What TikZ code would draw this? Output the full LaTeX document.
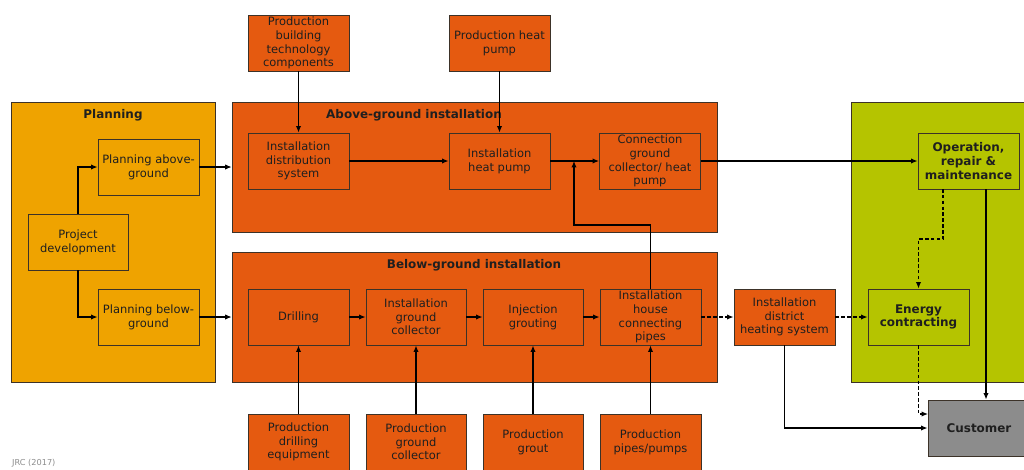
\documentclass[tikz,border=0pt]{standalone}
\usepackage{fontspec}
\setmainfont{DejaVu Sans}
\usetikzlibrary{arrows.meta}
\definecolor{plan}{RGB}{239,163,0}
\definecolor{inst}{RGB}{229,90,16}
\definecolor{oper}{RGB}{181,196,0}
\definecolor{cust}{RGB}{140,140,140}
\definecolor{edge}{RGB}{60,50,40}
\tikzset{
  panel/.style={draw=edge, line width=0.6pt, inner sep=0pt},
  box/.style={draw=edge, line width=0.8pt, minimum width=3.03cm, minimum height=1.68cm,
    inner sep=0pt, align=center, font=\fontsize{9.8}{11.7}\selectfont, text=black!88},
  boldbox/.style={box, font=\bfseries\fontsize{10.2}{11.7}\selectfont},
  title/.style={font=\bfseries\fontsize{10.2}{12}\selectfont, text=black!88},
  conn/.style={line width=0.9pt, -{Latex[length=5.5pt,width=4.5pt]}},
  dconn/.style={conn, dash pattern=on 3pt off 2pt}
}
\begin{document}
\begin{tikzpicture}[x=0.03cm,y=-0.03cm]
\useasboundingbox (0,0) rectangle (1024,469);
\begin{scope}
\clip (0,0) rectangle (1024,469);
% panels
\node[panel, fill=plan, minimum width=6.12cm, minimum height=8.4cm] (planP) at (113,242) {};
\node[panel, fill=inst, minimum width=14.55cm, minimum height=3.9cm] (agP) at (474.5,167) {};
\node[panel, fill=inst, minimum width=14.55cm, minimum height=3.9cm] (bgP) at (474.5,317) {};
\node[panel, fill=oper, minimum width=5.37cm, minimum height=8.4cm] (opP) at (940.5,242) {};
\node[title] (planT) at (113,115) {Planning};
\node[title] (agT) at (414,115) {Above-ground installation};
\node[title] (bgT) at (474,265) {Below-ground installation};
% planning
\node[box, fill=plan] (pa) at (148.5,167) {Planning above-\\ground};
\node[box, fill=plan, minimum width=3cm] (pd) at (78,242) {Project\\development};
\node[box, fill=plan] (pb) at (148.5,317) {Planning below-\\ground};
% above ground
\node[box, fill=inst] (pbt) at (298.5,43) {Production\\building\\technology\\components};
\node[box, fill=inst] (php) at (499.5,43) {Production heat\\pump};
\node[box, fill=inst] (ids) at (298.5,161) {Installation\\distribution\\system};
\node[box, fill=inst] (ihp) at (499.5,161) {Installation\\heat pump};
\node[box, fill=inst] (cgc) at (650,161) {Connection\\ground\\collector/ heat\\pump};
% below ground
\node[box, fill=inst] (dri) at (298.5,317) {Drilling};
\node[box, fill=inst, minimum width=3cm] (igc) at (416,317) {Installation\\ground\\collector};
\node[box, fill=inst, minimum width=3cm] (ing) at (533,317) {Injection\\grouting};
\node[box, fill=inst] (hcp) at (650.5,317) {Installation\\house\\connecting\\pipes};
\node[box, fill=inst] (pde) at (298.5,442) {Production\\drilling\\equipment};
\node[box, fill=inst, minimum width=3cm] (pgc) at (416,442) {Production\\ground\\collector};
\node[box, fill=inst, minimum width=3cm] (pgr) at (533,442) {Production\\grout};
\node[box, fill=inst] (ppp) at (650.5,442) {Production\\pipes/pumps};
\node[box, fill=inst] (dhs) at (784.5,317) {Installation\\district\\heating system};
% operation
\node[boldbox, fill=oper] (orm) at (968.5,161) {Operation,\\repair \&\\maintenance};
\node[boldbox, fill=oper] (ec) at (918.5,317) {Energy\\contracting};
\node[boldbox, fill=cust, minimum width=3.06cm] (cu) at (979,428) {Customer};
\end{scope}
% connectors
\draw[conn] (pd.north) |- (pa.west);
\draw[conn] (pd.south) |- (pb.west);
\draw[conn] (pa.east) -- (pa.east -| agP.west);
\draw[conn] (pb.east) -- (pb.east -| bgP.west);
\draw[conn] (pbt.south) -- (ids.north);
\draw[conn] (php.south) -- (ihp.north);
\draw[conn] (ids.east) -- (ihp.west);
\draw[conn] (ihp.east) -- (cgc.west);
\coordinate (j1) at (574,225);
\coordinate (j2) at (574,161);
\draw[conn] (hcp.north) |- (j1) -- (j2);
\draw[conn] (cgc.east) -- (orm.west);
\draw[conn] (dri.east) -- (igc.west);
\draw[conn] (igc.east) -- (ing.west);
\draw[conn] (ing.east) -- (hcp.west);
\draw[conn] (pde.north) -- (dri.south);
\draw[conn] (pgc.north) -- (igc.south);
\draw[conn] (pgr.north) -- (ing.south);
\draw[conn] (ppp.north) -- (hcp.south);
\draw[dconn] (hcp.east) -- (dhs.west);
\draw[dconn] (dhs.east) -- (ec.west);
\coordinate (o1) at (943,189);
\coordinate (o2) at (943,239);
\draw[dconn] (o1) -- (o2) -| (ec.north);
\coordinate (o3) at (986,189);
\draw[conn] (o3) -- (o3 |- cu.north);
\coordinate (c1) at (928,414);
\draw[dconn] (ec.south) |- (c1);
\draw[conn] (dhs.south) |- (cu.west);
\node[anchor=west, text=black!45, font=\fontsize{7}{8}\selectfont] (src) at (8,463) {JRC (2017)};
\end{tikzpicture}
\end{document}
